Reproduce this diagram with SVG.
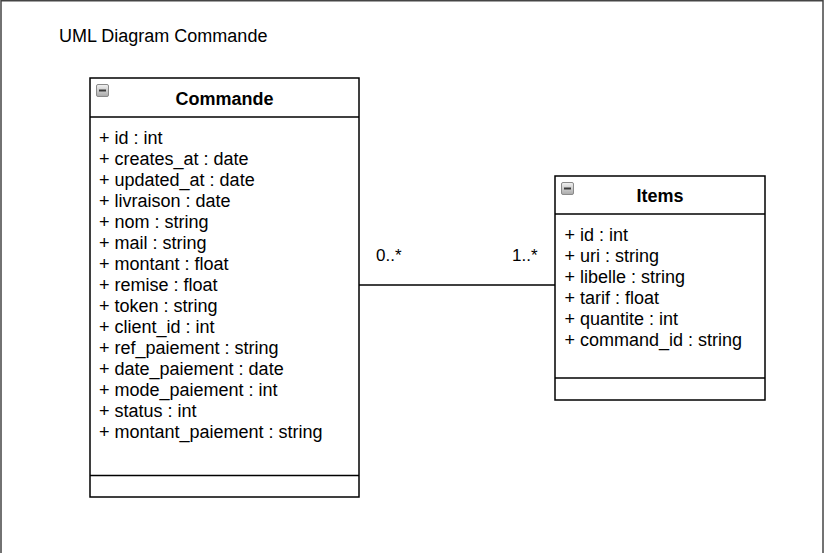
<svg xmlns="http://www.w3.org/2000/svg" width="825" height="553" viewBox="0 0 825 553">
<defs>
<linearGradient id="ig" x1="0" y1="0" x2="0" y2="1">
<stop offset="0" stop-color="#f2f2f2"/>
<stop offset="1" stop-color="#a9a9a9"/>
</linearGradient>
<g id="collapse">
<rect x="0.5" y="0.5" width="12" height="12" rx="1.5" fill="url(#ig)" stroke="#8a8a8a" stroke-width="1"/>
<rect x="3" y="5.5" width="7" height="2" fill="#3a3a3a"/>
</g>
</defs>
<style>
text{font-family:"Liberation Sans",Arial,sans-serif;fill:#000}
.attr{font-size:18px}
.head{font-size:18px;font-weight:bold;text-anchor:middle}
.box{fill:#fff;stroke:#000;stroke-width:1.5}
.sep{stroke:#000;stroke-width:1.5}
.lbl{font-size:17px}
</style>
<rect width="825" height="553" fill="#fff"/>
<rect id="frame" x="1" y="0.75" width="822" height="560" fill="none" stroke="#444" stroke-width="1.5"/>
<text id="title" x="59" y="42" style="font-size:18px">UML Diagram Commande</text>

<g id="connectors">
<line x1="359" y1="285" x2="555" y2="285" stroke="#000" stroke-width="1.5"/>
<text class="lbl" x="376" y="260.5">0..*</text>
<text class="lbl" x="512" y="260.5">1..*</text>
</g>

<g id="commande">
<rect class="box" x="90" y="78" width="269" height="419"/>
<line class="sep" x1="90" y1="117" x2="359" y2="117"/>
<line class="sep" x1="90" y1="475.5" x2="359" y2="475.5"/>
<use href="#collapse" x="96" y="84"/>
<text class="head" x="224.5" y="105">Commande</text>
<text class="attr" x="99" y="144">+ id : int</text>
<text class="attr" x="99" y="165">+ creates_at : date</text>
<text class="attr" x="99" y="186">+ updated_at : date</text>
<text class="attr" x="99" y="207">+ livraison : date</text>
<text class="attr" x="99" y="228">+ nom : string</text>
<text class="attr" x="99" y="249">+ mail : string</text>
<text class="attr" x="99" y="270">+ montant : float</text>
<text class="attr" x="99" y="291">+ remise : float</text>
<text class="attr" x="99" y="312">+ token : string</text>
<text class="attr" x="99" y="333">+ client_id : int</text>
<text class="attr" x="99" y="354">+ ref_paiement : string</text>
<text class="attr" x="99" y="375">+ date_paiement : date</text>
<text class="attr" x="99" y="396">+ mode_paiement : int</text>
<text class="attr" x="99" y="417">+ status : int</text>
<text class="attr" x="99" y="438">+ montant_paiement : string</text>
</g>

<g id="items">
<rect class="box" x="555" y="176" width="210" height="224"/>
<line class="sep" x1="555" y1="214" x2="765" y2="214"/>
<line class="sep" x1="555" y1="378" x2="765" y2="378"/>
<use href="#collapse" x="561" y="182"/>
<text class="head" x="660" y="202">Items</text>
<text class="attr" x="564.5" y="241">+ id : int</text>
<text class="attr" x="564.5" y="262">+ uri : string</text>
<text class="attr" x="564.5" y="283">+ libelle : string</text>
<text class="attr" x="564.5" y="304">+ tarif : float</text>
<text class="attr" x="564.5" y="325">+ quantite : int</text>
<text class="attr" x="564.5" y="346">+ command_id : string</text>
</g>
</svg>
